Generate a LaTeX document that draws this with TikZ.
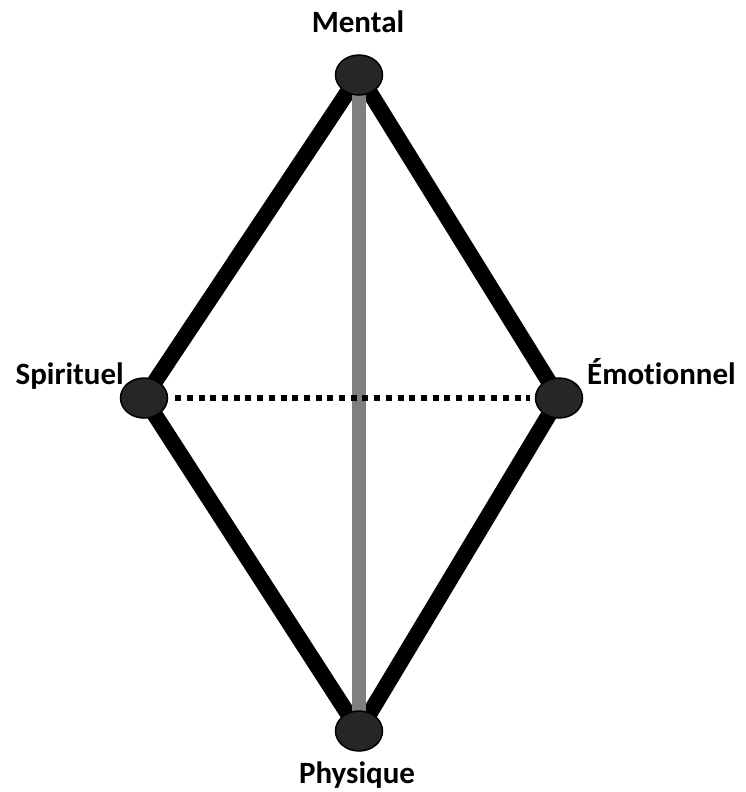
\documentclass[tikz,border=0pt]{standalone}
\usepackage{fontspec}
\setmainfont[Ligatures={NoCommon}]{Carlito}
\usetikzlibrary{shapes.geometric}
\definecolor{nodefill}{HTML}{262626}
\definecolor{midgray}{HTML}{7F7F7F}
\tikzset{
  pt/.style={ellipse, draw=black, line width=1.5pt, fill=nodefill, minimum width=47pt, minimum height=40pt, inner sep=0pt},
  lbl/.style={font=\fontsize{31}{31}\selectfont\bfseries, inner sep=0pt, text=black},
  edge/.style={line width=16pt, black},
  axis/.style={line width=14pt, midgray},
  dots/.style={line width=6pt, black, dash pattern=on 6pt off 5.7pt}
}
\begin{document}
\begin{tikzpicture}[x=1pt, y=-1pt]
\useasboundingbox (0,0) rectangle (746,792);
\coordinate (M) at (359,75);
\coordinate (S) at (144,398);
\coordinate (E) at (559,398);
\coordinate (P) at (359,731);
\draw[edge] (M) -- (S) -- (P) -- (E) -- cycle;
\draw[axis] (M) -- (P);
\node[pt] (m) at (M) {};
\node[pt] (s) at (S) {};
\node[pt] (e) at (E) {};
\node[pt] (p) at (P) {};
\draw[dots, shorten <=7pt, shorten >=5pt] (s.east) -- (e.west);
\node[lbl, anchor=base] (lm) at (358,33) {Mental};
\node[lbl, anchor=base east] (ls) at (124,384) {Spirituel};
\node[lbl, anchor=base west] (le) at (587,384) {Émotionnel};
\node[lbl, anchor=base] (lp) at (357,783) {Physique};
\end{tikzpicture}
\end{document}
